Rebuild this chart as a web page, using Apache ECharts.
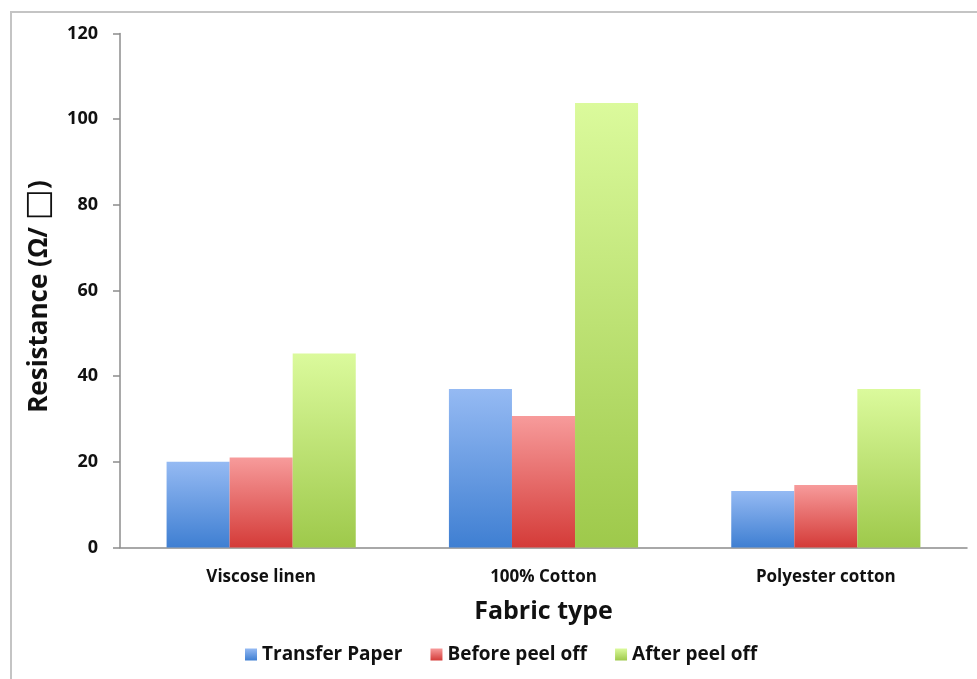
<!DOCTYPE html>
<html>
<head>
<meta charset="utf-8">
<script src="https://cdn.jsdelivr.net/npm/echarts@6/dist/echarts.min.js"></script>
<style>
  html, body { margin: 0; padding: 0; background: #fff; }
  #chart { width: 977px; height: 679px; }
</style>
</head>
<body>
<div id="chart"></div>
<script>
// Sheet resistance of printed tracks on different fabrics
const categories = ['Viscose linen', '100% Cotton', 'Polyester cotton'];
const transferPaper = [20.0, 37.0, 13.2];
const beforePeelOff = [21.0, 30.7, 14.6];
const afterPeelOff = [45.3, 103.8, 37.0];
const yTicks = { min: 0, max: 120, interval: 20 };

const FONT = '"Open Sans", Lato, sans-serif';

function grad(top, bottom) {
  return new echarts.graphic.LinearGradient(0, 0, 0, 1, [
    { offset: 0, color: top },
    { offset: 1, color: bottom }
  ]);
}

const chart = echarts.init(document.getElementById('chart'));
chart.setOption({
  backgroundColor: '#fff',
  animation: false,
  graphic: [{
    type: 'rect',
    shape: { x: 11, y: 12, width: 1000, height: 700 },
    style: { fill: 'none', stroke: '#c4c4c4', lineWidth: 2 },
    silent: true
  }],
  grid: { left: 120, right: 10, top: 33.5, bottom: 131.5, containLabel: false },
  legend: {
    top: 640,
    left: 240,
    itemWidth: 12,
    itemHeight: 12,
    itemGap: 28,
    icon: 'rect',
    textStyle: { fontFamily: FONT, fontWeight: 'bold', fontSize: 19, color: '#111' },
    data: ['Transfer Paper', 'Before peel off', 'After peel off']
  },
  xAxis: {
    type: 'category',
    data: categories,
    name: 'Fabric type',
    nameLocation: 'middle',
    nameGap: 52,
    nameTextStyle: { fontFamily: FONT, fontWeight: 'bold', fontSize: 25, color: '#111' },
    axisLine: { lineStyle: { color: '#8c8c8c', width: 1.5 } },
    axisTick: { show: false },
    axisLabel: { fontFamily: FONT, fontWeight: 'bold', fontSize: 17, color: '#111', margin: 21 }
  },
  yAxis: {
    type: 'value',
    min: yTicks.min,
    max: yTicks.max,
    interval: yTicks.interval,
    name: 'Resistance (Ω/ {box|□})',
    nameLocation: 'middle',
    nameGap: 58,
    nameTextStyle: {
      fontFamily: FONT, fontWeight: 'bold', fontSize: 26, color: '#111',
      padding: [0, 12, 0, 0],
      rich: { box: { fontFamily: '"DejaVu Sans"', fontWeight: 'normal', fontSize: 33, color: '#111' } }
    },
    axisLine: { show: true, lineStyle: { color: '#8c8c8c', width: 1.5 } },
    axisTick: { show: true, length: 7, lineStyle: { color: '#8c8c8c', width: 1.5 } },
    splitLine: { show: false },
    axisLabel: { fontFamily: FONT, fontWeight: 'bold', fontSize: 18, color: '#111', margin: 22 }
  },
  series: [
    {
      name: 'Transfer Paper', type: 'bar', data: transferPaper,
      barGap: '0%', barCategoryGap: '33%',
      itemStyle: { color: grad('#95baf3', '#3f7fd2') }
    },
    {
      name: 'Before peel off', type: 'bar', data: beforePeelOff,
      itemStyle: { color: grad('#f79b9b', '#d43b38') }
    },
    {
      name: 'After peel off', type: 'bar', data: afterPeelOff,
      itemStyle: { color: grad('#dbfa9c', '#9ec94b') }
    }
  ]
});
</script>
</body>
</html>
